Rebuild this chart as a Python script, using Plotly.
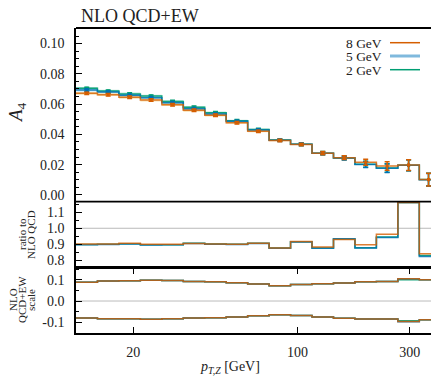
import numpy as np
import plotly.graph_objects as go

# ---------------- data ----------------
bin_edges = [11.43, 14.10, 17.40, 21.47, 26.49, 32.69, 40.33, 49.76, 61.40, 75.75,
             93.46, 115.3, 142.3, 175.6, 216.6, 267.3, 329.8, 395.0]

series_names = ["2 GeV", "5 GeV", "8 GeV"]

a4_2gev = [0.0704, 0.0686, 0.0667, 0.0653, 0.0618, 0.0579, 0.0543, 0.0490, 0.0433,
           0.0362, 0.0335, 0.0276, 0.0244, 0.0203, 0.0178, 0.0196, 0.0101]
a4_5gev = [0.0693, 0.0680, 0.0658, 0.0642, 0.0609, 0.0570, 0.0535, 0.0486, 0.0429,
           0.0361, 0.0334, 0.0275, 0.0243, 0.0201, 0.0176, 0.0196, 0.0100]
a4_8gev = [0.0671, 0.0662, 0.0645, 0.0627, 0.0596, 0.0559, 0.0526, 0.0477, 0.0420,
           0.0360, 0.0333, 0.0276, 0.0246, 0.0216, 0.0191, 0.0197, 0.0101]

a4_err = [0.0008, 0.0008, 0.0008, 0.0008, 0.0008, 0.0008, 0.0008, 0.0008, 0.0008,
          0.0008, 0.0009, 0.0010, 0.0012, 0.0020, 0.0028, 0.0036, 0.0042]
a4_band = [0.0009, 0.0009, 0.0009, 0.0009, 0.0009, 0.0009, 0.0008, 0.0007, 0.0006,
           0.0005, 0.0004, 0.0003, 0.0003, 0.0002, 0.0002, 0.0002, 0.0002]

ratio_2gev = [0.899, 0.900, 0.903, 0.897, 0.898, 0.907, 0.902, 0.900, 0.907,
              0.877, 0.916, 0.878, 0.933, 0.879, 0.945, 1.160, 0.830]
ratio_5gev = [0.898, 0.899, 0.902, 0.896, 0.897, 0.906, 0.901, 0.899, 0.906,
              0.876, 0.915, 0.876, 0.935, 0.877, 0.942, 1.160, 0.825]
ratio_8gev = [0.902, 0.902, 0.907, 0.900, 0.900, 0.905, 0.902, 0.900, 0.907,
              0.877, 0.917, 0.883, 0.930, 0.897, 0.963, 1.160, 0.841]

scale_up_2gev = [0.0876, 0.0937, 0.0950, 0.0980, 0.0968, 0.0920, 0.0906, 0.0860, 0.0800,
                 0.0720, 0.0770, 0.0815, 0.0845, 0.0910, 0.0920, 0.1000, 0.1000]
scale_up_5gev = [0.0876, 0.0937, 0.0950, 0.0980, 0.0968, 0.0920, 0.0906, 0.0860, 0.0800,
                 0.0720, 0.0770, 0.0815, 0.0845, 0.0910, 0.0920, 0.1040, 0.1000]
scale_up_8gev = [0.0876, 0.0937, 0.0950, 0.0980, 0.0968, 0.0920, 0.0906, 0.0860, 0.0800,
                 0.0720, 0.0770, 0.0815, 0.0845, 0.0910, 0.0920, 0.1045, 0.1000]
scale_dn_2gev = [-0.080, -0.083, -0.083, -0.085, -0.083, -0.080, -0.078, -0.075, -0.069,
                 -0.0645, -0.068, -0.075, -0.081, -0.084, -0.084, -0.092, -0.0875]
scale_dn_5gev = [-0.080, -0.083, -0.083, -0.085, -0.083, -0.080, -0.078, -0.075, -0.069,
                 -0.0645, -0.068, -0.075, -0.081, -0.084, -0.084, -0.097, -0.0875]
scale_dn_8gev = [-0.080, -0.083, -0.083, -0.085, -0.083, -0.080, -0.078, -0.075, -0.069,
                 -0.0645, -0.068, -0.075, -0.081, -0.084, -0.084, -0.096, -0.0875]

x_tick_vals = [20, 100, 300]
x_tick_text = ["20", "100", "300"]
x_minor_vals = [30, 40, 50, 60, 70, 80, 90, 200]

# ---------------- styling ----------------
colors = {"2 GeV": "#009e73", "5 GeV": "#0072b2", "8 GeV": "#d55e00"}
band_colors = {"2 GeV": "rgba(0,158,115,0.25)", "5 GeV": "rgba(86,180,233,0.40)",
               "8 GeV": "rgba(230,159,0,0.30)"}
line_opacity = {"2 GeV": 0.9, "5 GeV": 0.85, "8 GeV": 0.8}
FONT = "Liberation Serif"
TXT = "#222222"

edges = np.array(bin_edges)
centers = np.sqrt(edges[:-1] * edges[1:])

main_vals = {"2 GeV": a4_2gev, "5 GeV": a4_5gev, "8 GeV": a4_8gev}
ratio_vals = {"2 GeV": ratio_2gev, "5 GeV": ratio_5gev, "8 GeV": ratio_8gev}
up_vals = {"2 GeV": scale_up_2gev, "5 GeV": scale_up_5gev, "8 GeV": scale_up_8gev}
dn_vals = {"2 GeV": scale_dn_2gev, "5 GeV": scale_dn_5gev, "8 GeV": scale_dn_8gev}


def step_xy(vals, drop=True):
    v = list(vals)
    xs = list(edges[:-1]) + [edges[-1]]
    ys = v + [v[-1]]
    if drop:
        xs.append(edges[-1])
        ys.append(0.0)
    return xs, ys


fig = go.Figure()

for name in series_names:
    vals = np.array(main_vals[name])
    band = np.array(a4_band)
    xs, ylo = step_xy(vals - band, drop=False)
    _, yhi = step_xy(vals + band, drop=False)
    fig.add_trace(go.Scatter(x=xs, y=ylo, mode="lines", line=dict(width=0, shape="hv"),
                             showlegend=False, hoverinfo="skip", xaxis="x", yaxis="y"))
    fig.add_trace(go.Scatter(x=xs, y=yhi, mode="lines", line=dict(width=0, shape="hv"),
                             fill="tonexty", fillcolor=band_colors[name],
                             showlegend=False, hoverinfo="skip", xaxis="x", yaxis="y"))

for name in series_names:
    c = colors[name]
    xs, ys = step_xy(main_vals[name])
    fig.add_trace(go.Scatter(x=xs, y=ys, mode="lines", opacity=line_opacity[name],
                             line=dict(color=c, width=1.5, shape="hv"),
                             showlegend=False, xaxis="x", yaxis="y"))
    fig.add_trace(go.Scatter(x=centers, y=main_vals[name], mode="markers",
                             marker=dict(size=3, color=c, symbol="square"),
                             error_y=dict(type="data", array=a4_err, color=c,
                                          thickness=1.5, width=2.5),
                             showlegend=False, xaxis="x", yaxis="y"))

    xs, ys = step_xy(ratio_vals[name])
    fig.add_trace(go.Scatter(x=xs, y=ys, mode="lines", opacity=line_opacity[name],
                             line=dict(color=c, width=1.5, shape="hv"),
                             showlegend=False, xaxis="x2", yaxis="y2"))

    xs, ys = step_xy(up_vals[name])
    fig.add_trace(go.Scatter(x=xs, y=ys, mode="lines", opacity=line_opacity[name],
                             line=dict(color=c, width=1.5, shape="hv"),
                             showlegend=False, xaxis="x3", yaxis="y3"))
    xs, ys = step_xy(dn_vals[name])
    fig.add_trace(go.Scatter(x=xs, y=ys, mode="lines", opacity=line_opacity[name],
                             line=dict(color=c, width=1.5, shape="hv"),
                             showlegend=False, xaxis="x3", yaxis="y3"))

# ---------------- layout ----------------
# the page body adds an 8 px margin, so the figure is sized / placed to compensate
OFF = 8
W, H = 439 - OFF, 377 - OFF
L, R, T, B = 76 - OFF, 1, 28 - OFF, 44
PW, PH = W - L - R, H - T - B


def px_x(px):
    return (px - OFF - L) / PW


def px_y(py):
    return (H - B - (py - OFF)) / PH


d_main = [px_y(201.7), 1.0]
d_ratio = [px_y(268.0), px_y(201.7)]
d_scale = [0.0, px_y(268.0)]

xr = [np.log10(11.43), np.log10(396.0)]


def xax(labels, tlen, vals):
    return dict(type="log", range=xr, showgrid=False, zeroline=False, automargin=False,
                showline=True, linecolor="black", linewidth=1.5, mirror="ticks",
                ticks="inside", ticklen=tlen, tickwidth=1, tickcolor="black",
                tickmode="array", tickvals=vals, ticktext=labels, showticklabels=True,
                tickfont=dict(family=FONT, size=14, color=TXT))


blank_minor = [""] * len(x_minor_vals)
hidden_x = dict(type="log", range=xr, visible=False, showgrid=False, zeroline=False,
                automargin=False)

ycommon = dict(showgrid=False, zeroline=False, showline=True, linecolor="black",
               automargin=False,
               linewidth=1.5, mirror="ticks", ticks="inside", ticklen=6, tickwidth=1,
               tickcolor="black", tickfont=dict(family=FONT, size=14, color=TXT),
               ticklabelstandoff=7, tickmode="array")


def ymin(dt):
    return dict(ticks="inside", ticklen=3, tickwidth=1, tickcolor="black",
                showgrid=False, tickmode="linear", dtick=dt, tick0=0)


fig.update_layout(
    width=W, height=H, margin=dict(l=L, r=R, t=T, b=B, autoexpand=False),
    paper_bgcolor="white", plot_bgcolor="rgba(0,0,0,0)",
    showlegend=False,
    xaxis=dict(**hidden_x, domain=[0, 1], anchor="y"),
    xaxis2=dict(**hidden_x, domain=[0, 1], anchor="y2"),
    xaxis3=dict(**xax(x_tick_text, 6, x_tick_vals), domain=[0, 1], anchor="y3",
                ticklabelstandoff=5),
    xaxis6=dict(**xax(blank_minor, 3, x_minor_vals), overlaying="x3", anchor="y3"),
    yaxis=dict(**ycommon, domain=d_main, anchor="x", range=[-0.0045, 0.1103],
               tickvals=[0, 0.02, 0.04, 0.06, 0.08, 0.10],
               ticktext=["0.00", "0.02", "0.04", "0.06", "0.08", "0.10"],
               minor=ymin(0.005)),
    yaxis2=dict(**ycommon, domain=d_ratio, anchor="x2", range=[0.753, 1.165],
                tickvals=[0.8, 0.9, 1.0, 1.1], ticktext=["0.8", "0.9", "1.0", "1.1"],
                minor=ymin(0.05)),
    yaxis3=dict(**ycommon, domain=d_scale, anchor="x3", range=[-0.15, 0.155],
                tickvals=[-0.1, 0.0, 0.1], ticktext=["-0.1", "0.0", "0.1"],
                minor=ymin(0.05)),
)

# horizontal frame lines of the upper panels
for yb in [1.0, d_main[0], d_ratio[0]]:
    fig.add_shape(type="line", xref="paper", yref="paper", x0=0, x1=1, y0=yb, y1=yb,
                  line=dict(color="black", width=1.8))

fig.add_shape(type="line", xref="x2 domain", yref="y2", x0=0, x1=1, y0=1.0, y1=1.0,
              line=dict(color="#bbbbbb", width=1), layer="below")
fig.add_shape(type="line", xref="x3 domain", yref="y3", x0=0, x1=1, y0=0.0, y1=0.0,
              line=dict(color="#bbbbbb", width=1), layer="below")

ann = []
ann.append(dict(text="NLO QCD+EW", x=px_x(79), y=px_y(16), xref="paper", yref="paper",
                xanchor="left", yanchor="middle", showarrow=False,
                font=dict(family=FONT, size=18, color=TXT)))
ann.append(dict(text="<i>A</i><sub>4</sub>", x=px_x(17), y=px_y(113), xref="paper",
                yref="paper", xanchor="center", yanchor="middle", showarrow=False,
                textangle=-90, font=dict(family=FONT, size=19, color=TXT)))
ann.append(dict(text="<i>p</i><sub><i>T,Z</i></sub> [GeV]", x=px_x(230), y=px_y(368),
                xref="paper", yref="paper", xanchor="center", yanchor="middle",
                showarrow=False, font=dict(family=FONT, size=14, color=TXT)))
for txt, xp, yp in [("ratio to", 22, 234), ("NLO QCD", 31, 235),
                    ("NLO", 13, 300), ("QCD+EW", 22, 300), ("scale", 31, 300)]:
    ann.append(dict(text=txt, x=px_x(xp), y=px_y(yp), xref="paper", yref="paper",
                    xanchor="center", yanchor="middle", showarrow=False, textangle=-90,
                    font=dict(family=FONT, size=11, color=TXT)))

legend_rows = [("8 GeV", 42.7, colors["8 GeV"], 1.5),
               ("5 GeV", 56.0, "#7fb9dd", 3.0),
               ("2 GeV", 69.7, colors["2 GeV"], 1.5)]
for txt, yp, col, lw in legend_rows:
    ann.append(dict(text=txt, x=px_x(384), y=px_y(yp), xref="paper", yref="paper",
                    xanchor="right", yanchor="middle", showarrow=False, height=12,
                    font=dict(family=FONT, size=13.5, color=TXT)))
    fig.add_shape(type="line", xref="paper", yref="paper", x0=px_x(390), x1=px_x(420),
                  y0=px_y(yp), y1=px_y(yp), line=dict(color=col, width=lw))

fig.update_layout(annotations=ann)

fig.write_html("out.html")
